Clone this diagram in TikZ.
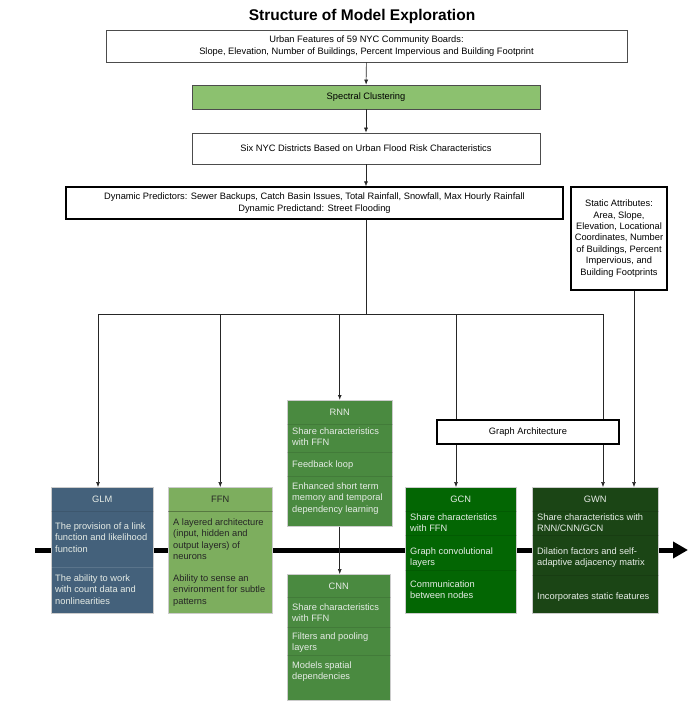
\documentclass[tikz,border=0pt]{standalone}
\usepackage{fontspec}
\setmainfont{Liberation Sans}
\usetikzlibrary{arrows.meta}
\definecolor{glmblue}{HTML}{44617B}
\definecolor{ffngreen}{HTML}{7DAE5E}
\definecolor{rnngreen}{HTML}{4A8A40}
\definecolor{gcngreen}{HTML}{036603}
\definecolor{gwngreen}{HTML}{1B4515}
\definecolor{specgreen}{HTML}{8CC16F}
\definecolor{lighttext}{HTML}{E6ECE6}
\begin{document}
\begin{tikzpicture}[x=1pt,y=-1pt,
  txt/.style={font=\fontsize{9.3}{11.4}\selectfont},
  plain/.style={txt,draw=black!70,fill=white,align=center,inner sep=0pt,line width=0.7pt},
  heavy/.style={plain,draw=black,line width=1.3pt},
  model/.style={draw=black!20,line width=0.5pt,minimum width=#1,minimum height=126,anchor=north west,inner sep=0pt},
  item/.style={txt,anchor=north west,align=left,inner sep=0pt},
  sep/.style={black,opacity=.1,line width=0.5pt},
  conn/.style={-{Latex[length=5pt,width=4pt]},black!85,line width=0.6pt}]
\useasboundingbox (0,0) rectangle (697,705);

\node[font=\fontsize{15.5}{18}\selectfont\bfseries] (title) at (362,16) {Structure of Model Exploration};

% top of the flow
\node[plain,minimum width=521,minimum height=32] (urban) at (366.5,46) {Urban Features of 59 NYC Community Boards:\\Slope, Elevation, Number of Buildings, Percent Impervious and Building Footprint};
\node[plain,fill=specgreen,minimum width=348,minimum height=24] (spectral) at (366,97) {Spectral Clustering};
\node[plain,minimum width=348,minimum height=31] (six) at (366,148.5) {Six NYC Districts Based on Urban Flood Risk Characteristics};
\node[heavy,minimum width=497,minimum height=32] (dynamic) at (314.5,203) {Dynamic Predictors: Sewer Backups, Catch Basin Issues, Total Rainfall, Snowfall, Max Hourly Rainfall\\Dynamic Predictand: Street Flooding};
\node[heavy,minimum width=96,minimum height=103] (static) at (619,238.5) {Static Attributes:\\Area, Slope,\\Elevation, Locational\\Coordinates, Number\\of Buildings, Percent\\Impervious, and\\Building Footprints};

\draw[conn] (urban) -- (spectral);
\draw[conn] (spectral) -- (six);
\draw[conn] (six) -- (six.south |- dynamic.north);

% time line
\coordinate (tl) at (35,550);
\coordinate (tr) at (688,550);
\draw[line width=5pt,-{Triangle[length=15pt,width=16pt]}] (tl) -- (tr);

% model boxes
\foreach \n/\x/\y/\w/\c in {glm/51/487/102/glmblue,ffn/168/487/104/ffngreen,rnn/287/400/105/rnngreen,cnn/287/574/103/rnngreen,gcn/405/487/111/gcngreen,gwn/532/487/126/gwngreen}
  \node[model=\w,fill=\c] (\n) at (\x,\y) {};

\node[txt,text=lighttext] (glmhead) at (glm.north |- 0,499) {GLM};
\draw[sep] (glm.west |- 0,511) -- (glm.east |- 0,511);
\draw[white,opacity=.12,line width=.5pt] (glm.west |- 0,567) -- (glm.east |- 0,567);
\node[item,text=lighttext] (glm1) at (55,522.5) {The provision of a link\\function and likelihood\\function};
\node[item,text=lighttext] (glm2) at (55,574.5) {The ability to work\\with count data and\\nonlinearities};

\node[txt,text=black!85] (ffnhead) at (ffn.north |- 0,499) {FFN};
\draw[sep,opacity=.3] (ffn.west |- 0,511) -- (ffn.east |- 0,511);
\node[item,text=black!85] (ffn1) at (173,518.5) {A layered architecture\\(input, hidden and\\output layers) of\\neurons};
\node[item,text=black!85] (ffn2) at (173,574.5) {Ability to sense an\\environment for subtle\\patterns};

\node[txt,text=lighttext] (rnnhead) at (rnn.north |- 0,412) {RNN};
\foreach \s in {424,452,476}
  \draw[sep] (rnn.west |- 0,\s) -- (rnn.east |- 0,\s);
\node[item,text=lighttext] (rnn1) at (292,427.5) {Share characteristics\\with FFN};
\node[item,text=lighttext] (rnn2) at (292,460.5) {Feedback loop};
\node[item,text=lighttext] (rnn3) at (292,482.5) {Enhanced short term\\memory and temporal\\dependency learning};

\node[txt,text=lighttext] (cnnhead) at (cnn.north |- 0,586) {CNN};
\foreach \s in {597,627,655}
  \draw[sep] (cnn.west |- 0,\s) -- (cnn.east |- 0,\s);
\node[item,text=lighttext] (cnn1) at (292,603.5) {Share characteristics\\with FFN};
\node[item,text=lighttext] (cnn2) at (292,632.5) {Filters and pooling\\layers};
\node[item,text=lighttext] (cnn3) at (292,661.5) {Models spatial\\dependencies};

\node[txt,text=lighttext] (gcnhead) at (gcn.north |- 0,499) {GCN};
\foreach \s in {511,535,570}
  \draw[sep] (gcn.west |- 0,\s) -- (gcn.east |- 0,\s);
\node[item,text=lighttext] (gcn1) at (410,513.5) {Share characteristics\\with FFN};
\node[item,text=lighttext] (gcn2) at (410,547.5) {Graph convolutional\\layers};
\node[item,text=lighttext] (gcn3) at (410,580.5) {Communication\\between nodes};

\node[txt,text=lighttext] (gwnhead) at (gwn.north |- 0,499) {GWN};
\foreach \s in {511,535,575}
  \draw[sep] (gwn.west |- 0,\s) -- (gwn.east |- 0,\s);
\node[item,text=lighttext] (gwn1) at (537,513.5) {Share characteristics with\\RNN/CNN/GCN};
\node[item,text=lighttext] (gwn2) at (537,547.5) {Dilation factors and self-\\adaptive adjacency matrix};
\node[item,text=lighttext] (gwn3) at (537,592.5) {Incorporates static features};

% branches to the models
\coordinate (bus) at (366,314);
\coordinate (busL) at (98,314);
\coordinate (busR) at (603,314);
\coordinate (gcnin) at (456,487);
\coordinate (gwnin) at (634,487);
\draw[line width=0.6pt,black!85] (dynamic.south -| bus) -- (bus);
\draw[line width=0.6pt,black!85] (busL) -- (busR);
\draw[conn] (busL) -- (busL |- glm.north);
\draw[conn] (bus -| ffn.north) -- (ffn.north);
\draw[conn,line width=1.1pt] (bus -| rnn.north) -- (rnn.north);
\draw[conn] (bus -| gcnin) -- (gcnin);
\draw[conn] (busR) -- (busR |- gwn.north);
\draw[conn] (static.south -| gwnin) -- (gwnin);
\draw[conn] (rnn.south) -- (rnn.south |- cnn.north);

\node[heavy,line width=1.1pt,minimum width=182,minimum height=24] (graph) at (528,432) {Graph Architecture};
\end{tikzpicture}
\end{document}
